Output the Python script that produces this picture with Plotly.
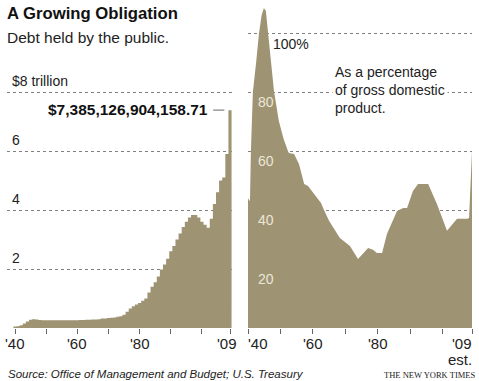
import plotly.graph_objects as go

W, H = 479, 381

# ---- data ----
debt_years = list(range(1940, 2010))
debt_trillions = [
    0.05, 0.06, 0.09, 0.15, 0.22, 0.28, 0.30, 0.29, 0.27, 0.26,   # 1940s
    0.26, 0.26, 0.26, 0.26, 0.26, 0.26, 0.26, 0.26, 0.26, 0.26,   # 1950s
    0.26, 0.27, 0.27, 0.28, 0.28, 0.29, 0.29, 0.30, 0.32, 0.32,   # 1960s
    0.34, 0.35, 0.36, 0.38, 0.40, 0.45, 0.55, 0.66, 0.74, 0.80,   # 1970s
    0.85, 0.92, 1.00, 1.20, 1.40, 1.55, 1.75, 1.98, 2.15, 2.35,   # 1980s
    2.60, 2.78, 3.00, 3.20, 3.42, 3.60, 3.75, 3.83, 3.83, 3.75,   # 1990s
    3.60, 3.50, 3.40, 3.70, 4.20, 4.60, 5.00, 5.10, 5.90, 7.385,  # 2000s
]

gdp_years = [1940.0, 1940.6, 1940.9, 1941.5, 1942.5, 1943.4, 1944.2, 1944.9, 1945.5, 1946.2,
             1947.0, 1948.0, 1949.5, 1951.0, 1952.3, 1952.6, 1954.2, 1955.7, 1957.3, 1958.5,
             1960.9, 1962.5, 1963.4, 1965.0, 1968.3, 1971.4, 1973.9, 1975.5, 1977.0, 1978.5,
             1979.7, 1981.3, 1982.8, 1985.9, 1987.8, 1989.0, 1990.8, 1992.4, 1995.5, 1998.2,
             2001.3, 2004.4, 2007.5, 2008.1, 2009.0]
gdp_pct = [44, 43, 60, 80, 90, 100, 106, 108.5, 107.5, 100,
           90, 80.3, 70.2, 64, 60, 59.3, 59, 55.6, 48.8, 48.1,
           44.7, 42.4, 40, 36.3, 30.5, 27.8, 23.4, 25.5, 27.1, 26.5,
           25.4, 25.4, 31.9, 39.7, 40.7, 40.7, 46.4, 48.8, 48.8, 42,
           33, 37, 37, 37.3, 60]

x_tick_years = [1940, 1950, 1960, 1970, 1980, 1990, 2000, 2009]
x_tick_labels = ["'40", "", "'60", "", "'80", "", "", "'09"]
left_grid = [2, 4, 6, 8]
left_grid_labels = ["2", "4", "6", "$8 trillion"]
right_grid = [20, 40, 60, 80, 100]
right_grid_labels = ["20", "40", "60", "80", "100%"]
peak_label = "$7,385,126,904,158.71"
estimate_note = "est."

FILL = "#9e9372"
GRID = "#808080"
FONT = "Liberation Sans, Arial, sans-serif"


def px(x, y):
    return x / W, 1 - y / H


fig = go.Figure()

# stepped annual area: each year's value held from year-0.5 to year+0.5
step_x = [y - 0.5 for y in debt_years] + [debt_years[-1] + 0.5]
step_y = debt_trillions + [debt_trillions[-1]]
fig.add_trace(go.Scatter(
    x=step_x, y=step_y, mode="lines", line_shape="hv", fill="tozeroy",
    line=dict(width=0, color=FILL), fillcolor=FILL,
    xaxis="x", yaxis="y", hoverinfo="skip", showlegend=False,
))
fig.add_trace(go.Scatter(
    x=gdp_years, y=gdp_pct, mode="lines", fill="tozeroy",
    line=dict(width=0, color=FILL), fillcolor=FILL,
    xaxis="x2", yaxis="y2", hoverinfo="skip", showlegend=False,
))

# pixel geometry
base_px, top_px = 328, 5
ppu = 29.5  # pixels per trillion (= per 10%)
ydom = [1 - base_px / H, 1 - top_px / H]
ymax = (base_px - top_px) / ppu

lx0, lx1 = 7, 232
l_scale = (230 - 15) / (2009 - 1940)
lrange = [1940 - (15 - lx0) / l_scale, 2009 + (lx1 - 230) / l_scale]
rx0, rx1 = 248, 472

axis_common = dict(showline=False, zeroline=False, ticks="outside", ticklen=5,
                   tickcolor="#666", tickwidth=1, showgrid=False,
                   tickvals=x_tick_years, showticklabels=False, fixedrange=True)

fig.update_layout(
    width=W, height=H, margin=dict(l=0, r=0, t=0, b=0),
    paper_bgcolor="white", plot_bgcolor="rgba(0,0,0,0)",
    showlegend=False,
    xaxis=dict(domain=[lx0 / W, lx1 / W], range=lrange, anchor="y", **axis_common),
    xaxis2=dict(domain=[rx0 / W, rx1 / W], range=[1940, 2009], anchor="y2", **axis_common),
    yaxis=dict(domain=ydom, range=[0, ymax], anchor="x", tickvals=left_grid,
               showticklabels=False, showgrid=True, gridcolor=GRID, griddash="dot",
               gridwidth=1, zeroline=False, showline=False, ticks="", fixedrange=True),
    yaxis2=dict(domain=ydom, range=[0, ymax * 10], anchor="x2", tickvals=right_grid,
                showticklabels=False, showgrid=True, gridcolor=GRID, griddash="dot",
                gridwidth=1, zeroline=False, showline=False, ticks="", fixedrange=True),
)

ann = []


def text(x, y, s, size=14, color="#222", xanchor="left", yanchor="middle", family=FONT, **kw):
    ax, ay = px(x, y)
    ann.append(dict(x=ax, y=ay, xref="paper", yref="paper", text=s, showarrow=False,
                    xanchor=xanchor, yanchor=yanchor,
                    font=dict(size=size, color=color, family=family), **kw))


# titles
text(5, 14, "<b>A Growing Obligation</b>", size=16.7, color="#111")
text(5, 37, "Debt held by the public.", size=15.5, color="#222")

# left gridline labels (above lines)
for v, lab in zip(left_grid, left_grid_labels):
    ann.append(dict(x=lx0 / W + 3 / W, y=v, xref="paper", yref="y", text=lab, showarrow=False,
                    xanchor="left", yanchor="bottom", yshift=1,
                    font=dict(size=14, color="#222", family=FONT)))

# right gridline labels (below lines)
for v, lab in zip(right_grid, right_grid_labels):
    if lab.endswith("%"):
        ann.append(dict(x=271 / W, y=v, xref="paper", yref="y2", text=lab, showarrow=False,
                        xanchor="left", yanchor="top", yshift=-1,
                        font=dict(size=14, color="#222", family=FONT)))
    else:
        ann.append(dict(x=256 / W, y=v, xref="paper", yref="y2", text=lab, showarrow=False,
                        xanchor="left", yanchor="top", yshift=0,
                        font=dict(size=14, color="#ece7d8", family=FONT)))

# peak label with leader line
last_year, last_val = debt_years[-1], debt_trillions[-1]
ann.append(dict(x=last_year - 6.3, y=last_val, xref="x", yref="y",
                text="<b>" + peak_label + "</b>", showarrow=False,
                xanchor="right", yanchor="middle", yshift=1,
                font=dict(size=15.5, color="#111", family=FONT)))
fig.add_shape(type="line", xref="x", yref="y", x0=last_year - 5.4, x1=last_year - 1.8,
              y0=last_val, y1=last_val, line=dict(color="#9a9a9a", width=1.5))

# percent explanation
text(332, 90, "As a percentage<br>of gross domestic<br>product.", size=14, color="#222",
     bgcolor="white", align="left", borderpad=2)

# x tick labels
tick_font = dict(size=15, color="#222", family=FONT)
for yr, lab in zip(x_tick_years, x_tick_labels):
    if not lab:
        continue
    # left panel
    ann.append(dict(x=yr, y=0, xref="x", yref="y", text=lab, showarrow=False,
                    xanchor="center", yanchor="top", yshift=-5,
                    xshift=-3 if yr == 2009 else 0, font=tick_font))
    # right panel
    if yr == x_tick_years[0]:
        xa, xs = "left", -2
    elif yr == x_tick_years[-1]:
        xa, xs = "right", 2
    else:
        xa, xs = "center", 0
    ann.append(dict(x=yr, y=0, xref="x2", yref="y2", text=lab, showarrow=False,
                    xanchor=xa, yanchor="top", yshift=-5, xshift=xs, font=tick_font))
ann.append(dict(x=x_tick_years[-1], y=0, xref="x2", yref="y2", text=estimate_note,
                showarrow=False, xanchor="right", yanchor="top", yshift=-21, xshift=2,
                font=tick_font))

# footer
text(6, 374, "<i>Source: Office of Management and Budget; U.S. Treasury</i>", size=11.5, color="#222")
text(477, 375, "THE NEW YORK TIMES", size=8.5, color="#222", xanchor="right",
     family="Liberation Serif, Times New Roman, serif")

fig.update_layout(annotations=ann)
fig.write_html("out.html", config={"displayModeBar": False},
               post_script="document.body.style.margin='0';")
